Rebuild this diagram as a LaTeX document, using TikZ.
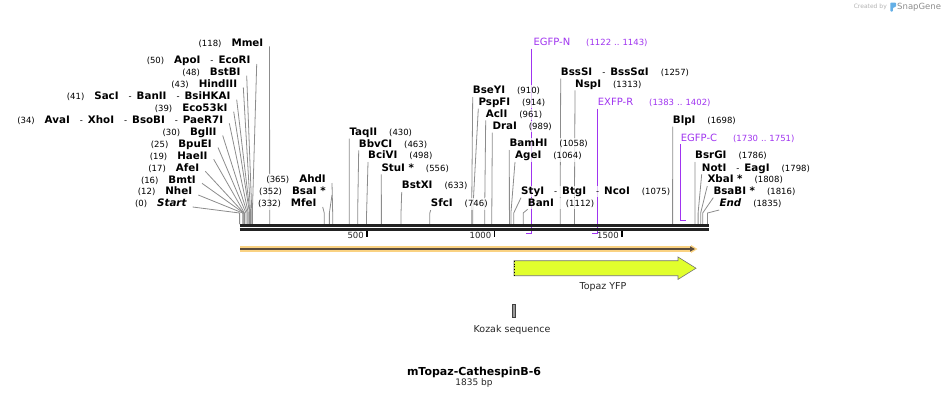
\documentclass[tikz,border=0pt]{standalone}
\usepackage{fontspec}
\setmainfont{DejaVu Sans}
\usetikzlibrary{arrows.meta}
\pgfdeclarelayer{bg}
\pgfsetlayers{bg,main}
\definecolor{sitegray}{RGB}{140,140,140}
\definecolor{primer}{RGB}{160,52,240}
\definecolor{bbone}{RGB}{34,34,34}
\definecolor{yfp}{RGB}{225,255,45}
\definecolor{orangeband}{RGB}{250,210,130}
\definecolor{darkline}{RGB}{90,75,60}
\definecolor{logoblue}{RGB}{100,175,230}
\newcommand{\enz}[1]{{\fontsize{10.3}{12}\selectfont\bfseries #1}}
\newcommand{\pnum}[1]{{\fontsize{8.5}{10}\selectfont #1}}
\newcommand{\sepa}{\hspace{10pt}{\fontsize{8.5}{10}\selectfont -}\hspace{5pt}}
\newcommand{\gapa}{\hspace{10pt}}
\newcommand{\gapb}{\hspace{12pt}}
\newcommand{\sx}[1]{239.6+0.255*#1}
\newcommand{\lsite}[5]{%
 \node[lab,anchor=east] (#1) at (#2+1,#3) {#5};
 \begin{pgfonlayer}{bg}
 \draw[site] ([xshift=5pt,yshift=-3pt]#1.east) -- ({\sx{#4}},213) -- ({\sx{#4}},224);
 \end{pgfonlayer}}
\newcommand{\rsite}[5]{%
 \node[lab,anchor=west] (#1) at (#2-1,#3) {#5};
 \begin{pgfonlayer}{bg}
 \draw[site] ([xshift=1pt]#1.south west) -- ({\sx{#4}},213) -- ({\sx{#4}},224);
 \end{pgfonlayer}}
\begin{document}
\begin{tikzpicture}[x=1pt,y=-1pt,
  lab/.style={inner sep=1pt, text height=7.5pt, text depth=2pt, fill=white, fill opacity=0.75, text opacity=1},
  site/.style={draw=sitegray, line width=0.8pt},
  primerline/.style={draw=primer, line width=1.1pt},
  ticklab/.style={anchor=east, inner sep=0pt, font=\fontsize{8.5}{10}\selectfont, text=black!85},
  featlab/.style={inner sep=0pt, font=\fontsize{9.5}{11}\selectfont, text=black!85}]
\useasboundingbox (0,0) rectangle (949,400);

% left-side enzyme labels
\lsite{L1}{263.5}{43.3}{118}{\pnum{(118)}\gapa\enz{MmeI}}
\lsite{L2}{250.7}{61}{50}{\pnum{(50)}\gapa\enz{ApoI}\sepa\enz{EcoRI}}
\lsite{L3}{240.7}{72.7}{48}{\pnum{(48)}\gapa\enz{BstBI}}
\lsite{L4}{237.3}{84.3}{43}{\pnum{(43)}\gapa\enz{HindIII}}
\lsite{L5}{230.7}{96.7}{41}{\pnum{(41)}\gapa\enz{SacI}\sepa\enz{BanII}\sepa\enz{BsiHKAI}}
\lsite{L6}{227.7}{108.7}{39}{\pnum{(39)}\gapa\enz{Eco53kI}}
\lsite{L7}{223.3}{120.3}{34}{\pnum{(34)}\gapa\enz{AvaI}\sepa\enz{XhoI}\sepa\enz{BsoBI}\sepa\enz{PaeR7I}}
\lsite{L8}{216.7}{132.5}{30}{\pnum{(30)}\gapa\enz{BglII}}
\lsite{L9}{212}{144.5}{25}{\pnum{(25)}\gapa\enz{BpuEI}}
\lsite{L10}{207.7}{156.3}{19}{\pnum{(19)}\gapa\enz{HaeII}}
\lsite{L11}{199.3}{168.3}{17}{\pnum{(17)}\gapa\enz{AfeI}}
\lsite{L12}{196}{180.3}{16}{\pnum{(16)}\gapa\enz{BmtI}}
\lsite{L13}{192.3}{192}{12}{\pnum{(12)}\gapa\enz{NheI}}
\lsite{L14}{186.7}{204}{0}{\pnum{(0)}\gapa\enz{\itshape Start}}
\lsite{L15}{326}{180}{365}{\pnum{(365)}\gapa\enz{AhdI}}
\lsite{L16}{326}{192}{352}{\pnum{(352)}\gapa\enz{BsaI *}}
\lsite{L17}{316.7}{204}{332}{\pnum{(332)}\gapa\enz{MfeI}}

% right-side enzyme labels
\rsite{R1}{349.3}{132.7}{430}{\enz{TaqII}\gapb\pnum{(430)}}
\rsite{R2}{358.7}{144.3}{463}{\enz{BbvCI}\gapb\pnum{(463)}}
\rsite{R3}{368}{156}{498}{\enz{BciVI}\gapb\pnum{(498)}}
\rsite{R4}{381.3}{168.3}{556}{\enz{StuI *}\gapb\pnum{(556)}}
\rsite{R5}{401.7}{186}{633}{\enz{BstXI}\gapb\pnum{(633)}}
\rsite{R6}{430.7}{204}{746}{\enz{SfcI}\gapb\pnum{(746)}}
\rsite{R7}{472.7}{91}{910}{\enz{BseYI}\gapb\pnum{(910)}}
\rsite{R8}{478.3}{102.7}{914}{\enz{PspFI}\gapb\pnum{(914)}}
\rsite{R9}{485.7}{114.3}{961}{\enz{AclI}\gapb\pnum{(961)}}
\rsite{R10}{492.3}{126.7}{989}{\enz{DraI}\gapb\pnum{(989)}}
\rsite{R11}{509.3}{144}{1058}{\enz{BamHI}\gapb\pnum{(1058)}}
\rsite{R12}{515}{156}{1064}{\enz{AgeI}\gapb\pnum{(1064)}}
\rsite{R13}{521}{191.7}{1075}{\enz{StyI}\sepa\enz{BtgI}\sepa\enz{NcoI}\gapb\pnum{(1075)}}
\rsite{R14}{527.7}{203.3}{1112}{\enz{BanI}\gapb\pnum{(1112)}}
\rsite{R15}{560.7}{72.7}{1257}{\enz{BssSI}\sepa\enz{BssSαI}\gapb\pnum{(1257)}}
\rsite{R16}{575}{84.3}{1313}{\enz{NspI}\gapb\pnum{(1313)}}
\rsite{R17}{672.7}{120.7}{1698}{\enz{BlpI}\gapb\pnum{(1698)}}
\rsite{R18}{695}{156}{1786}{\enz{BsrGI}\gapb\pnum{(1786)}}
\rsite{R19}{701.7}{168.3}{1798}{\enz{NotI}\sepa\enz{EagI}\gapb\pnum{(1798)}}
\rsite{R20}{707.3}{180}{1808}{\enz{XbaI *}\gapb\pnum{(1808)}}
\rsite{R21}{713.3}{191.7}{1816}{\enz{BsaBI *}\gapb\pnum{(1816)}}
\rsite{R22}{719.3}{204}{1835}{\enz{\itshape End}\gapb\pnum{(1835)}}

% primers
\node[lab,anchor=west,text=primer] (pN) at (532.3,42.7) {{\fontsize{10}{12}\selectfont EGFP-N}\hspace{16pt}{\fontsize{8.5}{10}\selectfont (1122\hspace{3pt}..\hspace{3pt}1143)}};
\node[lab,anchor=west,text=primer] (pR) at (596.7,102.7) {{\fontsize{10}{12}\selectfont EXFP-R}\hspace{16pt}{\fontsize{8.5}{10}\selectfont (1383\hspace{3pt}..\hspace{3pt}1402)}};
\node[lab,anchor=west,text=primer] (pC) at (679.7,138.3) {{\fontsize{10}{12}\selectfont EGFP-C}\hspace{16pt}{\fontsize{8.5}{10}\selectfont (1730\hspace{3pt}..\hspace{3pt}1751)}};
\coordinate (pNe) at (531.1,233.5);
\coordinate (pRe) at (597.1,233.5);
\coordinate (pCe) at (680.8,220.5);
\begin{pgfonlayer}{bg}
\draw[primerline] (pN.south west -| pNe) -- (pNe) -- ++(-5.4,0);
\draw[primerline] (pR.south west -| pRe) -- (pRe) -- ++(-4.8,0);
\draw[primerline] (pC.south west -| pCe) -- (pCe) -- ++(5.3,0);
\end{pgfonlayer}

% backbone
\draw[bbone, line width=2.7pt] (239.6,225.3) -- (709,225.3);
\draw[bbone, line width=2.4pt] (239.6,229.5) -- (709,229.5);

% ticks
\draw[black, line width=1.5pt] (367.1,230.5) -- (367.1,236.7);
\draw[black, line width=1.5pt] (494.6,230.5) -- (494.6,236.7);
\draw[black, line width=1.5pt] (622.1,230.5) -- (622.1,236.7);
\node[ticklab] (t500) at (364,235.5) {500};
\node[ticklab] (t1000) at (491.5,235.5) {1000};
\node[ticklab] (t1500) at (619,235.5) {1500};

% orange full-length arrow
\draw[orangeband, line width=6pt] (240,249) -- (691,249);
\fill[orangeband] (691,245) -- (697.5,249) -- (691,253) -- cycle;
\draw[darkline, line width=1.4pt, -{Triangle[length=5pt,width=5pt]}] (240,249) -- (695,249);

% Topaz YFP feature
\filldraw[fill=yfp, draw=black!55, line width=0.6pt] (514,260.7) -- (678,260.7) -- (678,257) -- (696,268.2) -- (678,279.4) -- (678,275.7) -- (514,275.7) -- cycle;
\draw[black, dotted, line width=0.8pt] (514,260.7) -- (514,275.7);
\node[featlab] (yfplab) at (603,287.5) {Topaz YFP};

% Kozak sequence
\filldraw[fill=black!40, draw=black!75, line width=0.5pt] (512.4,304) rectangle (515.6,317.5);
\node[featlab] (kozlab) at (512,330) {Kozak sequence};

% title
\node[inner sep=0pt, font=\fontsize{11}{13}\selectfont\bfseries] (title) at (474,372) {mTopaz-CathespinB-6};
\node[inner sep=0pt, font=\fontsize{9}{11}\selectfont, text=black!85] (bp) at (474,383.5) {1835 bp};

% Created by SnapGene
\node[inner sep=0pt, anchor=east, font=\fontsize{6}{7}\selectfont, text=black!30] (cby) at (887,7) {Created by};
\fill[logoblue, rounded corners=0.8pt] (890.3,11.5) -- (890.3,2.5) -- (896,2.5) -- (896,6.8) -- (892.8,7.8) -- (892.8,11.5) -- cycle;
\node[inner sep=0pt, anchor=west, font=\fontsize{8.5}{10}\selectfont, text=black!45] (sg) at (897,7) {SnapGene};
\end{tikzpicture}
\end{document}
